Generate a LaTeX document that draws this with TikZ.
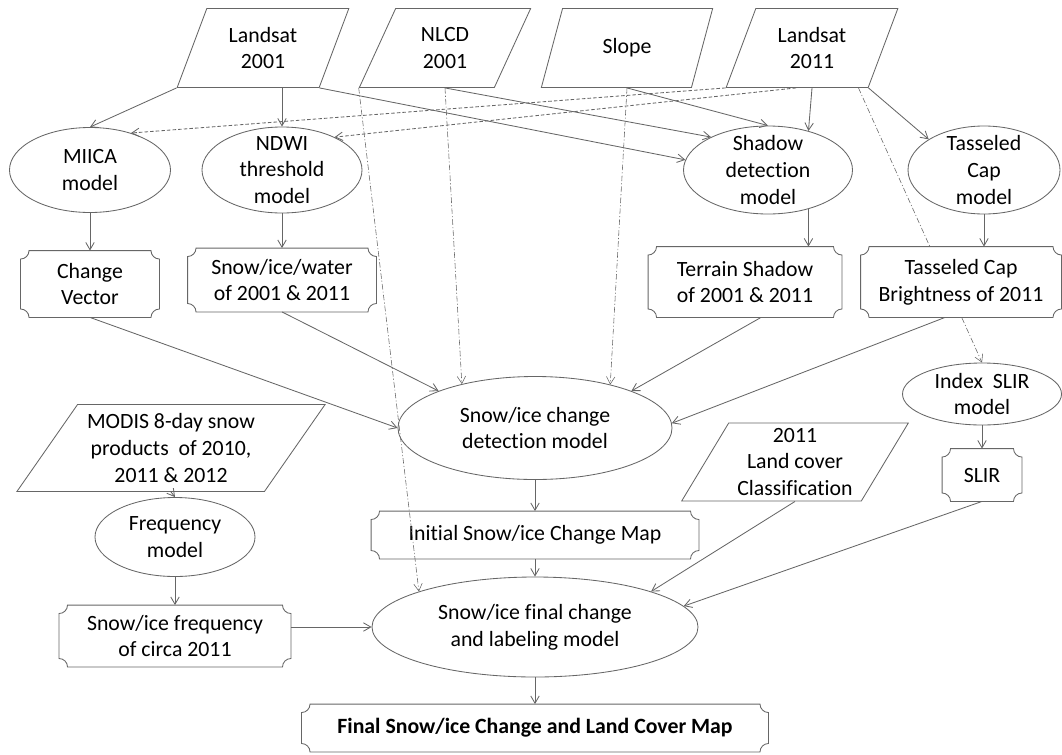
\documentclass[tikz,border=0pt]{standalone}
\usepackage{fontspec}
\setmainfont{Carlito}[Ligatures=NoCommon]
\usetikzlibrary{shapes.geometric,arrows.meta,backgrounds}
\newcommand{\cutr}{6pt}
\begin{document}
\begin{tikzpicture}[x=0.25mm, y=0.25mm, >={Straight Barb[angle=60:6pt]},
     font=\fontsize{15.5}{19}\selectfont,
     every node/.style={align=center, draw=gray!80!black, line width=0.6pt, fill=white},
     datain/.style 2 args={trapezium, trapezium stretches=true, inner sep=0pt,
        trapezium left angle=#1, trapezium right angle=#2},
     topin/.style={datain={66.7}{113.3}, minimum width=43mm, minimum height=19.75mm},
     model/.style={ellipse, inner xsep=0pt, inner ysep=-9pt},
     plaque/.style={rectangle, draw=none, inner sep=0pt},
     flow/.style={->, draw=gray!80!black, line width=0.6pt},
     dashflow/.style={flow, dash pattern=on 2.5pt off 1.5pt},
     dotflow/.style={flow, line width=0.4pt, dash pattern=on 4pt off 1.5pt on 0.8pt off 1.5pt}]
\useasboundingbox (0,0) rectangle (1062,-754);

\node[topin] at (263,-48) (l01) {Landsat\\2001};
\node[topin] at (445,-48) (nlcd) {NLCD\\2001};
\node[topin] at (627,-48) (slope) {Slope};
\node[topin] at (812,-48) (l11) {Landsat\\2011};

\node[model, minimum width=40.25mm, minimum height=21.25mm] 
    at (90,-170) (miica) {MIICA\\model};
\node[model, minimum width=40mm, minimum height=21.5mm] 
    at (282,-170) (ndwi) {NDWI\\threshold\\model};
\node[model, minimum width=42.25mm, minimum height=22mm] 
    at (768,-170) (shd) {Shadow\\detection\\model};
\node[model, minimum width=38mm, minimum height=22mm] 
    at (984,-170) (tc) {Tasseled\\Cap\\model};

\node[plaque, minimum width=34.5mm, minimum height=16.5mm] 
    at (90,-284) (cv) {Change\\Vector};
\node[plaque, minimum width=47mm, minimum height=15.75mm] 
    at (282,-280) (siw) {Snow/ice/water\\of 2001 \& 2011};
\node[plaque, minimum width=48.25mm, minimum height=17.5mm] 
    at (745,-282) (tsh) {Terrain Shadow\\of 2001 \& 2011};
\node[plaque, minimum width=50mm, minimum height=17.5mm] 
    at (961,-282) (tcb) {Tasseled Cap\\Brightness of 2011};

\node[model, minimum width=68.5mm, minimum height=25.75mm] 
    at (535,-428) (cd) {Snow/ice change\\detection model};
\node[model, minimum width=39.75mm, minimum height=15.5mm] 
    at (982,-394) (islir) {Index~ SLIR\\model};
\node[datain={51.6}{128.4}, minimum width=77.25mm, minimum height=21.75mm] 
    at (171,-448) (modis) {MODIS 8-day snow\\products~ of 2010,\\2011 \& 2012};
\node[model, minimum width=40mm, minimum height=19.75mm] 
    at (175,-537) (freq) {Frequency\\model};
\node[plaque, minimum width=57.75mm, minimum height=15.25mm] 
    at (175,-636) (fb) {Snow/ice frequency\\of circa 2011};
\node[plaque, minimum width=81.75mm, minimum height=11.75mm] 
    at (535,-535) (imap) {Initial Snow/ice Change Map};
\node[datain={58.9}{121.1}, minimum width=56.75mm, minimum height=19.5mm] 
    at (795,-462) (lc) {2011\\Land cover\\Classification};
\node[plaque, minimum width=19.75mm, minimum height=13mm] 
    at (982,-475) (slir) {SLIR};
\node[model, minimum width=81.5mm, minimum height=25mm] 
    at (535,-627) (fm) {Snow/ice final change\\and labeling model};
\node[plaque, minimum width=116.5mm, minimum height=11.75mm, font=\fontsize{15.5}{19}\selectfont\bfseries] 
    at (535,-728) (fin) {Final Snow/ice Change and Land Cover Map};

\foreach \nd in {cv,siw,tsh,tcb,fb,imap,slir,fin}
  \draw[draw=gray!80!black, line width=0.6pt]
    ([xshift=\cutr]\nd.north west) -- ([xshift=-\cutr]\nd.north east)
    arc[start angle=180, end angle=270, radius=\cutr]
    -- ([yshift=\cutr]\nd.south east)
    arc[start angle=90, end angle=180, radius=\cutr]
    -- ([xshift=\cutr]\nd.south west)
    arc[start angle=0, end angle=90, radius=\cutr]
    -- ([yshift=-\cutr]\nd.north west)
    arc[start angle=270, end angle=360, radius=\cutr] -- cycle;

\draw[flow] (l01.bottom left corner) -- (miica.north);
\draw[flow] (ndwi.north |- l01.south) -- (ndwi.north);
\draw[flow] (l01.bottom right corner) -- (shd.173);
\draw[flow] (nlcd.south) -- (shd.150);
\draw[flow] (slope.south) -- (shd.north);
\draw[flow] (l11.south) -- (shd.44);
\draw[flow] (l11.bottom right corner) -- (tc.151);
\draw[dashflow] (l11.bottom left corner) -- (miica.42);
\draw[dashflow] ([xshift=-4mm]l11.south) -- (ndwi.32);
\draw[dotflow] (nlcd.bottom left corner) -- (fm.163);
\draw[dotflow] (nlcd.south) -- (cd.149);
\draw[dotflow] (slope.south) -- (cd.30);
\begin{scope}[on background layer]
\draw[dotflow] ([xshift=-2.5mm]l11.bottom right corner) -- (islir.north);
\end{scope}

\draw[flow] (miica.south) -- (cv.north);
\draw[flow] (ndwi.south) -- (siw.north);
\draw[flow] (shd.-44) -- (shd.-44 |- tsh.north);
\draw[flow] (tc.south) -- (tc.south |- tcb.north);
\draw[flow] (cv.south) -- (cd.west);
\draw[flow] (siw.south) -- (cd.159);
\draw[flow] ([xshift=4mm]tsh.south) -- (cd.21);
\draw[flow] ([xshift=-4mm]tcb.south) -- (cd.2);
\draw[flow] (islir.south) -- (slir.north);

\draw[flow] (modis.south) -- (freq.north);
\draw[flow] (freq.south) -- (fb.north);
\draw[flow] (cd.south) -- (imap.north);
\draw[flow] (imap.south) -- (fm.north);
\draw[flow] (fb.east |- fm.west) -- (fm.west);
\draw[flow] (lc.south) -- (fm.17);
\draw[flow] (slir.south) -- (fm.8);
\draw[flow] (fm.south) -- (fin.north);
\end{tikzpicture}
\end{document}
